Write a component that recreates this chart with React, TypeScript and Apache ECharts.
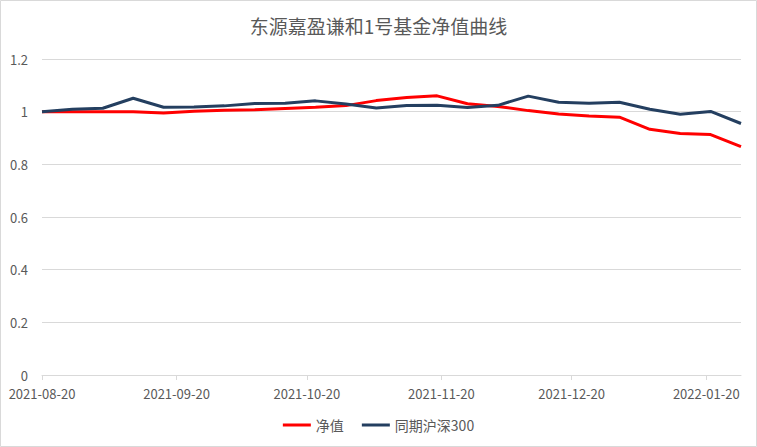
import React, { useEffect, useRef } from "react";
import * as echarts from "echarts";

const dates = [
  "2021-08-20", "2021-08-27", "2021-09-03", "2021-09-10", "2021-09-17", "2021-09-24",
  "2021-10-01", "2021-10-08", "2021-10-15", "2021-10-22", "2021-10-29", "2021-11-05",
  "2021-11-12", "2021-11-19", "2021-11-26", "2021-12-03", "2021-12-10", "2021-12-17",
  "2021-12-24", "2021-12-31", "2022-01-07", "2022-01-14", "2022-01-21", "2022-01-28",
];
const navValues = [
  1.0, 1.0, 1.0, 1.0, 0.995, 1.002, 1.005, 1.007, 1.012, 1.017, 1.023, 1.042,
  1.054, 1.06, 1.03, 1.02, 1.004, 0.991, 0.984, 0.979, 0.933, 0.917, 0.913, 0.867,
];
const hs300Values = [
  1.0, 1.009, 1.013, 1.051, 1.017, 1.018, 1.022, 1.031, 1.032, 1.041, 1.029, 1.014,
  1.023, 1.024, 1.016, 1.024, 1.059, 1.036, 1.032, 1.036, 1.009, 0.99, 1.001, 0.955,
];
const tickDates = ["2021-08-20", "2021-09-20", "2021-10-20", "2021-11-20", "2021-12-20", "2022-01-20"];
const seriesNames = ["净值", "同期沪深300"];
const titleText = "东源嘉盈谦和1号基金净值曲线";

const toTs = (s: string) => {
  const [y, m, d] = s.split("-").map(Number);
  return new Date(y, m - 1, d).getTime();
};

export default function App() {
  const ref = useRef<HTMLDivElement>(null);
  useEffect(() => {
    document.body.style.margin = "0";
    const chart = echarts.init(ref.current!, null, { renderer: "svg" });
    const font = '"Noto Sans CJK SC", "Noto Sans", sans-serif';
    const tickTs = tickDates.map(toTs);
    chart.setOption({
      animation: false,
      backgroundColor: "#ffffff",
      textStyle: { fontFamily: font },
      title: {
        text: titleText,
        left: "center",
        top: 11,
        textStyle: { fontSize: 19, fontWeight: "normal", color: "#595959", fontFamily: font },
      },
      legend: {
        bottom: 10,
        left: "center",
        itemWidth: 28,
        itemHeight: 3,
        itemGap: 18,
        icon: "rect",
        textStyle: { fontSize: 14, color: "#595959", fontFamily: font },
        data: seriesNames,
      },
      graphic: [
        {
          type: "rect",
          shape: { x: 0.5, y: 0.5, width: 756, height: 446 },
          style: { fill: "none", stroke: "#d9d9d9", lineWidth: 1 },
          silent: true,
        },
      ],
      grid: { left: 42, right: 16, top: 59, bottom: 72 },
      xAxis: {
        type: "time",
        min: toTs(dates[0]),
        max: toTs(dates[dates.length - 1]),
        axisLine: { show: true, lineStyle: { color: "#d9d9d9" } },
        axisTick: { show: true, length: 5, lineStyle: { color: "#d9d9d9" }, customValues: tickTs },
        splitLine: { show: false },
        axisLabel: {
          customValues: tickTs,
          formatter: "{yyyy}-{MM}-{dd}",
          color: "#595959",
          fontSize: 13,
          margin: 12,
          fontFamily: font,
          hideOverlap: false,
        },
      },
      yAxis: {
        type: "value",
        min: 0,
        max: 1.2,
        interval: 0.2,
        axisLine: { show: false },
        axisTick: { show: false },
        splitLine: { lineStyle: { color: "#d9d9d9" } },
        axisLabel: {
          color: "#595959",
          fontSize: 13,
          margin: 14,
          fontFamily: font,
          formatter: (v: number) => String(Math.round(v * 10) / 10),
        },
      },
      series: [
        {
          name: seriesNames[0],
          type: "line",
          data: dates.map((d, i) => [d, navValues[i]]),
          showSymbol: false,
          symbol: "none",
          lineStyle: { color: "#ff0000", width: 3 },
          itemStyle: { color: "#ff0000" },
        },
        {
          name: seriesNames[1],
          type: "line",
          data: dates.map((d, i) => [d, hs300Values[i]]),
          showSymbol: false,
          symbol: "none",
          lineStyle: { color: "#243f60", width: 3 },
          itemStyle: { color: "#243f60" },
        },
      ],
    });
    return () => chart.dispose();
  }, []);
  return <div ref={ref} style={{ width: 757, height: 447 }} />;
}
